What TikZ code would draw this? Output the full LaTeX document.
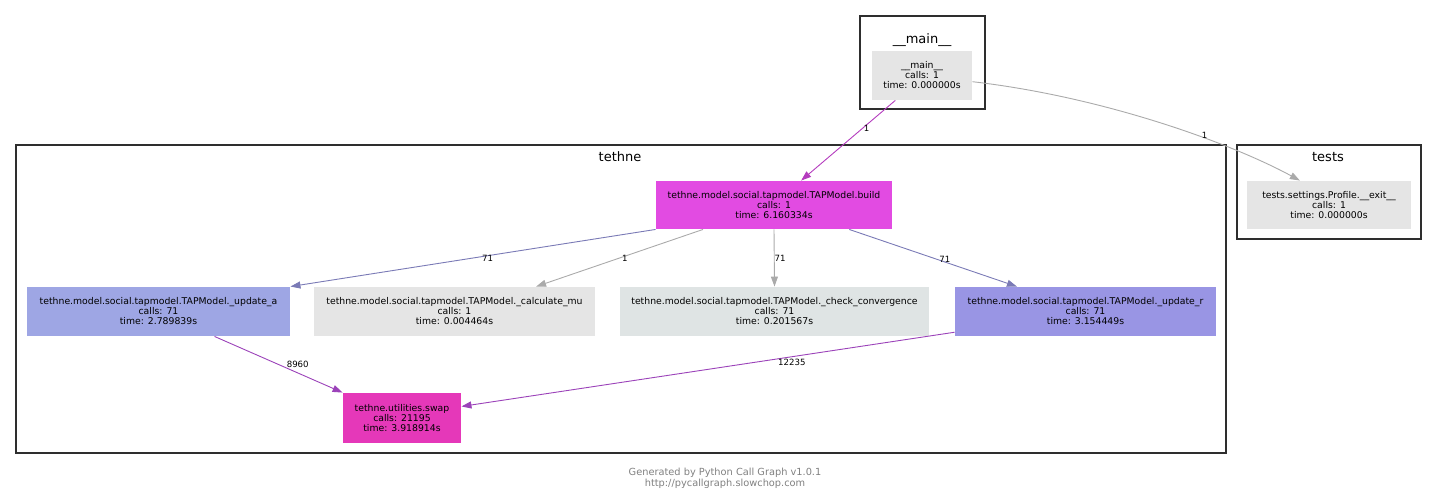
\documentclass[tikz,border=0pt]{standalone}
\usepackage{fontspec}
\setmainfont{DejaVu Sans}
\usepackage{xcolor}
\usetikzlibrary{arrows.meta}

\definecolor{fngray}{RGB}{229,229,229}
\definecolor{fnbuild}{RGB}{226,75,226}
\definecolor{fnupa}{RGB}{158,166,228}
\definecolor{fncheck}{RGB}{223,228,228}
\definecolor{fnupr}{RGB}{153,149,228}
\definecolor{fnswap}{RGB}{229,56,185}
\definecolor{edgegray}{RGB}{170,170,170}
\definecolor{edgemag}{RGB}{180,60,190}
\definecolor{edgeblue}{RGB}{122,122,182}
\definecolor{edgepurp}{RGB}{155,66,185}

\begin{document}
\begin{tikzpicture}[x=1pt, y=-1pt, >={Triangle[length=10pt, width=7pt]}, line width=0.9pt,
    fn/.style={rectangle, inner sep=0pt, align=center, font=\fontsize{9.3}{10}\selectfont},
    cluster/.style={draw=black!82, line width=2.2pt},
    ctitle/.style={font=\fontsize{13}{15}\selectfont},
    lbl/.style={font=\fontsize{8.6}{10}\selectfont, inner sep=1pt}]

    \useasboundingbox (0,0) rectangle (1437,501);

    % ==========================================
    % Clusters
    % ==========================================
    \draw[cluster] (860,16) rectangle (985,109);
    \node[ctitle] (maintitle) at (922,40) {\_\_main\_\_};

    \draw[cluster] (16,145) rectangle (1226,453);
    \node[ctitle] (tethnetitle) at (620,157) {tethne};

    \draw[cluster] (1237,145) rectangle (1421,239);
    \node[ctitle] (teststitle) at (1328,157) {tests};

    % ==========================================
    % Functions
    % ==========================================
    \node[fn, fill=fngray, minimum width=100, minimum height=49] (mainfn) at (922,75.5)
        {\_\_main\_\_\\calls: 1\\time: 0.000000s};
    \node[fn, fill=fngray, minimum width=164, minimum height=48] (testsfn) at (1329,205)
        {tests.settings.Profile.\_\_exit\_\_\\calls: 1\\time: 0.000000s};

    \node[fn, fill=fnbuild, minimum width=236, minimum height=48] (buildfn) at (774,205)
        {tethne.model.social.tapmodel.TAPModel.build\\calls: 1\\time: 6.160334s};

    \node[fn, fill=fnupa, minimum width=263, minimum height=49] (updateafn) at (158.5,311.5)
        {tethne.model.social.tapmodel.TAPModel.\_update\_a\\calls: 71\\time: 2.789839s};
    \node[fn, fill=fngray, minimum width=281, minimum height=49] (calcmufn) at (454.5,311.5)
        {tethne.model.social.tapmodel.TAPModel.\_calculate\_mu\\calls: 1\\time: 0.004464s};
    \node[fn, fill=fncheck, minimum width=309, minimum height=49] (checkfn) at (774.5,311.5)
        {tethne.model.social.tapmodel.TAPModel.\_check\_convergence\\calls: 71\\time: 0.201567s};
    \node[fn, fill=fnupr, minimum width=261, minimum height=49] (updaterfn) at (1085.5,311.5)
        {tethne.model.social.tapmodel.TAPModel.\_update\_r\\calls: 71\\time: 3.154449s};

    \node[fn, fill=fnswap, minimum width=118, minimum height=50] (swapfn) at (402,418)
        {tethne.utilities.swap\\calls: 21195\\time: 3.918914s};

    % ==========================================
    % Calls
    % ==========================================
    \draw[edgemag, ->] (mainfn.223) -- (buildfn.42) node[lbl, black, pos=0.35, right] {1};
    \draw[edgegray, ->] (mainfn.-7) .. controls +(130,15) and +(-70,-38) .. (testsfn.140)
        node[lbl, black, pos=0.64, yshift=3pt] {1};

    \draw[edgeblue, ->] (buildfn.south west) -- (updateafn.north east)
        node[lbl, black, pos=0.46, yshift=-3pt] {71};
    \draw[edgegray, ->] (buildfn.199) -- (calcmufn.17) node[lbl, black, midway, right=1pt] {1};
    \draw[edgegray, ->] (buildfn.south) -- (checkfn.north) node[lbl, black, midway, right, inner sep=0pt] {71};
    \draw[edgeblue, ->] (buildfn.-18) -- (updaterfn.160)
        node[lbl, black, pos=0.57, yshift=3pt] {71};

    \draw[edgepurp, ->] (updateafn.-24) -- (swapfn.north west)
        node[lbl, black, pos=0.65, yshift=9pt] {8960};
    \draw[edgepurp, ->] (updaterfn.189) -- (swapfn.11)
        node[lbl, black, pos=0.33, yshift=-6pt] {12235};

    % Footer
    \node[align=center, text=black!50, font=\fontsize{9.8}{11}\selectfont] (footer) at (725,478)
        {Generated by Python Call Graph v1.0.1\\http://pycallgraph.slowchop.com};

\end{tikzpicture}
\end{document}
